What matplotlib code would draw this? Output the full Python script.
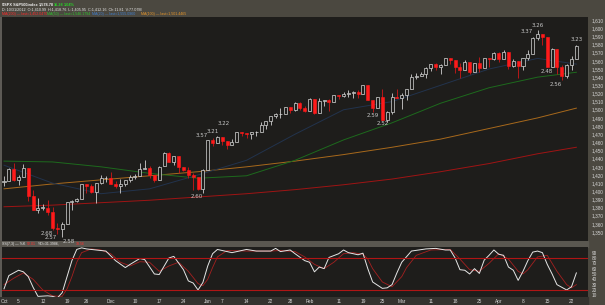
import matplotlib.pyplot as plt
import numpy as np
from matplotlib.patches import Rectangle

plt.rcParams['font.family'] = ['Liberation Sans', 'DejaVu Sans']

# $SPX daily bars, Oct 31 2012 .. Apr 23 2013
opens = [1410.99, 1412.20, 1427.59, 1414.02, 1417.26, 1428.27, 1394.53, 1377.55, 1379.86, 1380.03,
         1374.64, 1355.41, 1353.36, 1359.88, 1386.82, 1387.79, 1391.03, 1409.15, 1406.29, 1398.77,
         1409.96, 1415.95, 1416.34, 1409.46, 1407.05, 1409.43, 1413.95, 1418.07, 1418.55, 1427.84,
         1428.48, 1419.45, 1413.54, 1430.47, 1446.79, 1435.81, 1443.67, 1430.15, 1426.66, 1419.83,
         1418.10, 1402.43, 1426.19, 1462.42, 1459.37, 1466.47, 1461.89, 1457.15, 1461.02, 1472.12,
         1472.05, 1470.67, 1472.33, 1472.63, 1480.95, 1485.98, 1492.56, 1494.81, 1494.82, 1502.96,
         1500.18, 1507.84, 1501.96, 1498.11, 1513.17, 1495.71, 1511.29, 1512.12, 1509.39, 1517.93,
         1517.01, 1519.43, 1520.33, 1521.38, 1519.79, 1530.94, 1511.95, 1502.42, 1515.60, 1487.85,
         1496.94, 1515.99, 1514.68, 1518.20, 1525.20, 1539.79, 1541.46, 1544.26, 1551.15, 1556.22,
         1552.48, 1554.52, 1563.21, 1560.70, 1552.10, 1548.34, 1558.71, 1545.90, 1556.89, 1551.69,
         1563.75, 1562.86, 1569.18, 1562.17, 1570.25, 1553.69, 1559.98, 1553.26, 1563.11, 1568.61,
         1587.73, 1593.30, 1588.84, 1552.01, 1574.57, 1552.03, 1541.61, 1555.25, 1562.50]
highs = [1418.76, 1428.35, 1434.27, 1419.90, 1433.38, 1428.27, 1401.23, 1391.39, 1384.87, 1388.81,
         1380.13, 1360.62, 1362.03, 1386.89, 1389.77, 1391.25, 1409.16, 1409.15, 1409.01, 1410.31,
         1419.70, 1418.86, 1423.73, 1413.14, 1415.56, 1413.95, 1420.34, 1421.64, 1434.27, 1438.59,
         1431.36, 1419.45, 1430.67, 1448.00, 1447.75, 1443.70, 1443.67, 1430.15, 1429.42, 1422.80,
         1418.10, 1426.74, 1462.43, 1465.47, 1467.94, 1466.47, 1461.89, 1464.73, 1472.30, 1472.75,
         1472.05, 1473.31, 1473.96, 1485.16, 1485.98, 1492.56, 1496.13, 1502.27, 1503.26, 1503.23,
         1509.35, 1509.94, 1504.19, 1514.41, 1513.17, 1514.96, 1512.53, 1512.90, 1518.31, 1518.31,
         1522.29, 1524.69, 1523.14, 1524.24, 1530.94, 1530.94, 1511.95, 1515.64, 1525.84, 1498.99,
         1520.08, 1525.34, 1519.99, 1525.27, 1543.47, 1545.25, 1545.78, 1552.48, 1556.27, 1556.77,
         1556.39, 1563.32, 1563.62, 1560.70, 1557.25, 1561.56, 1558.71, 1557.74, 1564.91, 1563.95,
         1564.07, 1570.28, 1570.57, 1573.66, 1571.47, 1562.60, 1559.98, 1563.07, 1573.89, 1589.07,
         1597.35, 1593.30, 1588.84, 1575.35, 1574.57, 1554.38, 1555.89, 1565.55, 1579.58]
lows = [1405.95, 1412.20, 1412.91, 1408.13, 1417.26, 1388.14, 1377.51, 1373.03, 1377.19, 1371.39,
        1352.50, 1348.05, 1343.35, 1359.88, 1377.04, 1386.39, 1391.03, 1397.68, 1398.03, 1385.43,
        1409.04, 1411.63, 1408.46, 1403.65, 1398.23, 1405.93, 1410.90, 1415.64, 1418.55, 1426.76,
        1416.00, 1411.88, 1413.54, 1430.47, 1435.80, 1432.82, 1422.58, 1424.66, 1416.43, 1401.80,
        1401.58, 1398.11, 1426.19, 1455.53, 1458.99, 1456.62, 1451.64, 1457.15, 1461.02, 1467.58,
        1465.69, 1463.76, 1467.60, 1472.63, 1475.81, 1481.16, 1489.90, 1489.46, 1494.82, 1496.33,
        1498.09, 1500.11, 1496.76, 1498.11, 1495.02, 1495.71, 1504.71, 1498.49, 1509.39, 1513.61,
        1515.61, 1515.93, 1514.02, 1514.14, 1519.79, 1511.41, 1497.29, 1502.42, 1487.85, 1485.01,
        1494.88, 1514.46, 1501.48, 1512.29, 1525.20, 1538.11, 1541.46, 1539.37, 1547.36, 1548.24,
        1544.00, 1554.52, 1555.74, 1545.13, 1538.57, 1548.34, 1543.55, 1545.90, 1546.22, 1551.69,
        1551.90, 1561.08, 1558.47, 1562.17, 1549.80, 1552.52, 1539.50, 1548.63, 1560.92, 1568.61,
        1586.17, 1579.97, 1552.28, 1552.01, 1543.69, 1536.03, 1539.40, 1548.19, 1562.50]
closes = [1412.16, 1427.59, 1414.20, 1417.26, 1428.39, 1394.53, 1377.51, 1379.85, 1380.03, 1374.53,
          1355.49, 1353.33, 1359.88, 1386.89, 1387.81, 1391.03, 1409.15, 1406.29, 1398.94, 1409.93,
          1415.95, 1416.18, 1409.46, 1407.05, 1409.28, 1413.94, 1418.07, 1418.55, 1427.84, 1428.48,
          1419.45, 1413.58, 1430.36, 1446.79, 1435.81, 1443.69, 1430.15, 1426.66, 1419.83, 1418.10,
          1402.43, 1426.19, 1462.42, 1459.37, 1466.47, 1461.89, 1457.15, 1461.02, 1472.12, 1472.05,
          1470.68, 1472.34, 1472.63, 1480.94, 1485.98, 1492.56, 1494.81, 1494.82, 1502.96, 1500.18,
          1507.84, 1501.96, 1498.11, 1513.17, 1495.71, 1511.29, 1512.12, 1509.39, 1517.93, 1517.01,
          1519.43, 1520.33, 1521.38, 1519.79, 1530.94, 1511.95, 1502.42, 1515.60, 1487.85, 1496.94,
          1515.99, 1514.68, 1518.20, 1525.20, 1539.79, 1541.46, 1544.26, 1551.18, 1556.22, 1552.48,
          1554.52, 1563.23, 1560.70, 1552.10, 1548.34, 1558.71, 1545.80, 1556.89, 1551.69, 1563.77,
          1562.85, 1569.19, 1562.17, 1570.25, 1553.69, 1559.98, 1553.28, 1563.07, 1568.61, 1587.73,
          1593.37, 1588.85, 1552.36, 1574.57, 1552.01, 1541.61, 1555.25, 1562.50, 1578.78]

# x labels (bar index -> text)
tick_idx = [0, 3, 8, 13, 17, 22, 27, 32, 37, 42, 45, 50, 55, 59, 63, 69, 74, 78, 82, 88, 93, 98, 102, 107, 112, 117]
tick_txt = ['Oct', '5', '12', '19', '26', 'Dec', '10', '17', '24', 'Jan', '7', '14', '22', '28',
            'Feb', '11', '19', '25', 'Mar', '11', '18', '25', 'Apr', '8', '15', '22']

# moving averages, every 10 bars
ma_idx = [0, 10, 20, 30, 40, 50, 60, 70, 80, 90, 100, 110, 118]
ma200 = [1381, 1383, 1386, 1389, 1393, 1397, 1402, 1408, 1415, 1424, 1434, 1446, 1454]
ma100 = [1403, 1409, 1414, 1419, 1424, 1430, 1437, 1445, 1454, 1464, 1477, 1490, 1502]
ma50 = [1437, 1436, 1430, 1422, 1416, 1419, 1438, 1463, 1484, 1508, 1527, 1540, 1546]
ma20 = [1432, 1410, 1397, 1403, 1420, 1438, 1470, 1500, 1510, 1530, 1550, 1563, 1556]

# slow stochastic (7,3)
k_idx = [0, 1, 3, 4, 5, 6, 7, 9, 10, 11, 12, 13, 14, 15, 16, 17, 19, 21, 23, 25, 26, 28, 29, 31, 32,
         34, 35, 37, 38, 39, 40, 41, 42, 43, 44, 46, 47, 50, 52, 55, 56, 57, 59, 60, 62, 63, 64, 65,
         66, 67, 69, 70, 71, 73, 74, 75, 76, 78, 79, 80, 81, 82, 84, 87, 89, 91, 92, 93, 94, 95, 96,
         97, 98, 99, 100, 101, 102, 103, 104, 105, 106, 107, 108, 109, 110, 111, 112, 113, 114, 115,
         116, 117, 118]
k_val = [22, 47, 57, 54, 45, 25, 8, 9, 8, 5, 15, 45, 75, 96, 99, 97, 95, 93, 75, 62, 68, 79, 77, 50, 49,
         80, 83, 58, 37, 33, 20, 34, 65, 88, 96, 92, 90, 96, 93, 93, 98, 92, 95, 88, 75, 72, 54, 63,
         60, 81, 88, 95, 90, 86, 89, 60, 35, 23, 24, 30, 52, 72, 93, 97, 98, 95, 95, 80, 58, 57, 50,
         60, 51, 76, 85, 95, 87, 85, 63, 57, 38, 55, 75, 91, 93, 90, 68, 50, 30, 25,
         20, 26, 52]
d_idx = [0, 2, 4, 6, 8, 10, 12, 13, 14, 15, 16, 18, 20, 22, 24, 26, 28, 30, 32, 34, 36, 38, 40, 41, 42,
         43, 44, 46, 50, 55, 57, 60, 62, 64, 66, 68, 70, 72, 74, 75, 76, 78, 80, 82, 83, 85, 88, 92,
         94, 96, 98, 100, 102, 104, 106, 107, 108, 110, 112, 114, 116, 117, 118]
d_val = [30, 42, 52, 40, 20, 9, 8, 22, 45, 72, 90, 97, 95, 88, 72, 65, 73, 72, 55, 65, 72, 55, 32, 28, 40,
         62, 82, 94, 93, 93, 94, 92, 82, 68, 60, 72, 88, 90, 87, 78, 60, 35, 26, 45, 62, 85, 95, 96,
         78, 58, 55, 70, 88, 78, 55, 50, 58, 82, 85, 55, 30, 24, 30]

# swing labels
ann_idx = [10, 11, 12, 41, 42, 43, 44, 76, 78, 109, 110, 112, 115, 118]
ann_txt = ['2.68', '2.57', '2.58', '2.60', '3.57', '3.21', '3.22', '2.59', '2.52', '3.37', '3.26', '2.48', '2.56', '3.23']
ann_side = ['low', 'low', 'low', 'low', 'high', 'high', 'high', 'low', 'low', 'high', 'high', 'low', 'low', 'high']
# label placement (style)
ann_ha = ['right', 'right', 'left', 'right', 'right', 'center', 'left', 'center', 'center',
          'right', 'center', 'center', 'right', 'center']
ann_dy = [-1, -1, -1, -1, 2, 3, 7, -1, -1, 2, 2, -1, -1, 2]

W, H = 605, 305
BG = '#1e1d1b'
fig = plt.figure(figsize=(W / 100, H / 100), dpi=100, facecolor='#4b4840')


def px(x0, y0, w, h):
    return [x0 / W, 1 - (y0 + h) / H, w / W, h / H]


# strips
fig.add_artist(Rectangle((0, 0), 588 / W, 8 / H, transform=fig.transFigure, color='#34322e', zorder=0))
fig.add_artist(Rectangle((0, 1 - 247 / H), 588 / W, 6 / H, transform=fig.transFigure, color='#5a5750', zorder=0))

ax = fig.add_axes(px(0, 17, 588, 224), facecolor=BG)
ax2 = fig.add_axes(px(0, 247, 588, 50), facecolor=BG, sharex=ax)

o = np.array(opens); h = np.array(highs); l = np.array(lows); c = np.array(closes)
x = np.arange(len(c))
up = c >= o

ax.vlines(x[up], l[up], h[up], color='#cfcfcf', lw=0.6, zorder=2)
ax.vlines(x[~up], l[~up], h[~up], color='#d01818', lw=0.6, zorder=2)
bot = np.minimum(o, c)
hgt = np.maximum(np.abs(c - o), 0.4)
ax.bar(x[up], hgt[up], bottom=bot[up], width=0.62, facecolor=BG, edgecolor='#d8d8d8', lw=0.5, zorder=3)
ax.bar(x[~up], hgt[~up], bottom=bot[~up], width=0.62, facecolor='#ff1a1a', edgecolor='#ff1a1a', lw=0.4, zorder=3)

ax.plot(ma_idx, ma200, color='#a01414', lw=0.7, zorder=1)
ax.plot(ma_idx, ma100, color='#a8691c', lw=0.7, zorder=1)
ax.plot(ma_idx, ma50, color='#1d6a1d', lw=0.7, zorder=1)
ax.plot(ma_idx, ma20, color='#22334d', lw=0.7, zorder=1)

for i, t, s, ha, dy in zip(ann_idx, ann_txt, ann_side, ann_ha, ann_dy):
    yv = highs[i] if s == 'high' else lows[i]
    ax.annotate(t, (i, yv), xytext=(0, dy), textcoords='offset points', ha=ha,
                va='bottom' if s == 'high' else 'top', fontsize=4.0, color='#c8c8c8',
                family='DejaVu Sans', annotation_clip=False)

ax.set_xlim(-0.825, 120.4)
ax.set_ylim(1339, 1613.8)
ax.yaxis.tick_right()
yt = list(range(1350, 1611, 10))
ax.set_yticks(yt, ['{:,}'.format(v) for v in yt])
ax.tick_params(axis='y', length=0, pad=2.5, labelsize=3.4, labelcolor='#d8d8d8')
ax.tick_params(axis='x', length=0, labelbottom=False)

ax2.plot(d_idx, d_val, color='#a52020', lw=0.6)
ax2.plot(k_idx, k_val, color='#e6e6e6', lw=0.7)
ax2.axhline(80, color='#b01515', lw=0.8)
ax2.axhline(20, color='#b01515', lw=0.8)
ax2.set_ylim(6.8, 100.6)
ax2.yaxis.tick_right()
ax2.set_yticks(range(10, 91, 10))
ax2.tick_params(axis='y', length=0, pad=2.5, labelsize=3.4, labelcolor='#d8d8d8')
ax2.set_xticks(tick_idx, tick_txt)
ax2.tick_params(axis='x', length=0, pad=1.2, labelsize=3.4, labelcolor='#d8d8d8')

for a in (ax, ax2):
    for sp in a.spines.values():
        sp.set_visible(False)
    a.axvline(-0.55, color='#6a6761', lw=1.2)


# header
def ftxt(xp, yp, s, col, size=3.0, weight='normal'):
    fig.text(xp / W, 1 - yp / H, s, color=col, fontsize=size, weight=weight, va='center', ha='left')


ftxt(2, 4.5, '$SPX S&P500index', '#f0f0f0', 2.8, 'bold')
ftxt(39, 4.5, '1,578.78', '#f0f0f0', 2.8, 'bold')
ftxt(54, 4.5, '16.28', '#28d228', 2.8, 'bold')
ftxt(64, 4.5, '1.04%', '#28d228', 2.8, 'bold')
ftxt(2, 9.5, 'D: 10/31/2012  O:1,410.99  H:1,418.76  L:1,405.95  C:1,412.16  Ch:11.81  V:77.07M', '#e8e8e8', 2.7)
ftxt(2, 14, 'MA(200) \u2014 last=1,452.0470', '#ff2a2a', 2.6)
ftxt(47, 14, 'MA(50) \u2014 last=1,546.1794', '#2ec42e', 2.6)
ftxt(92, 14, 'MA(20) \u2014 last=1,555.0960', '#3f7fd0', 2.6)
ftxt(141, 14, 'MA(100) \u2014 last=1,501.4465', '#e8962a', 2.6)
ftxt(2, 244, 'SS(7,3) \u2014 %K', '#e8e8e8', 2.6)
ftxt(27, 244, '52.01', '#ff3030', 2.6)
ftxt(38, 244, '%D=31.3986,', '#e8e8e8', 2.6)
ftxt(76, 244, '18.56', '#ff3030', 2.6)

fig.savefig('out.png', dpi=100, facecolor=fig.get_facecolor())
